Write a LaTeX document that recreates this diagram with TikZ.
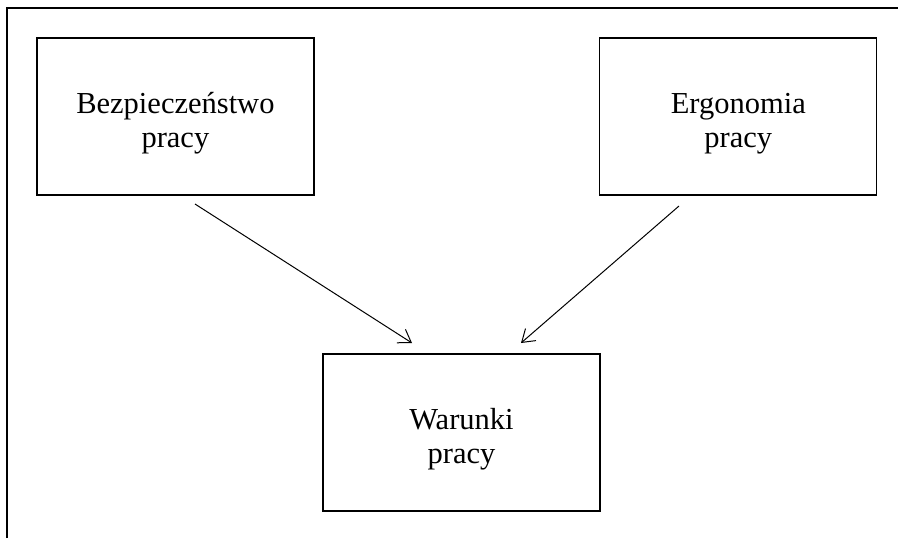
\documentclass[tikz,border=0pt]{standalone}
\usepackage{fontspec}
\setmainfont{Liberation Serif}
\usetikzlibrary{arrows.meta}
\begin{document}
\begin{tikzpicture}[x=0.5pt,y=0.5pt,line width=0.6pt,
  box node/.style={draw,inner sep=0pt,minimum width=138.5pt,minimum height=78.5pt,
    label={[align=center,yshift=-3.5pt,font=\fontsize{15.25}{17}\selectfont]center:#1}},
  arrow/.style={line width=0.5pt,-{Straight Barb[length=6pt,width=8pt]}}]

  \useasboundingbox (0,0) rectangle (898,538);
  % frame lines
  \draw (7,0) -- (7,530) -- (898,530);

  \node[box node={Bezpieczeństwo\\pracy}] (bhp) at (175.4,421.5) {};
  \node[box node={Ergonomia\\pracy}] (ergo) at (738.3,421.5) {};
  \node[box node={Warunki\\pracy}] (warunki) at (461.5,105.5) {};

  \coordinate (bhp out) at (195,334);
  \coordinate (ergo out) at (679,332);
  \coordinate (warunki in1) at (412,195);
  \coordinate (warunki in2) at (521,195);

  \path[arrow]
    (bhp out) edge (warunki in1)
    (ergo out) edge (warunki in2);
\end{tikzpicture}
\end{document}
